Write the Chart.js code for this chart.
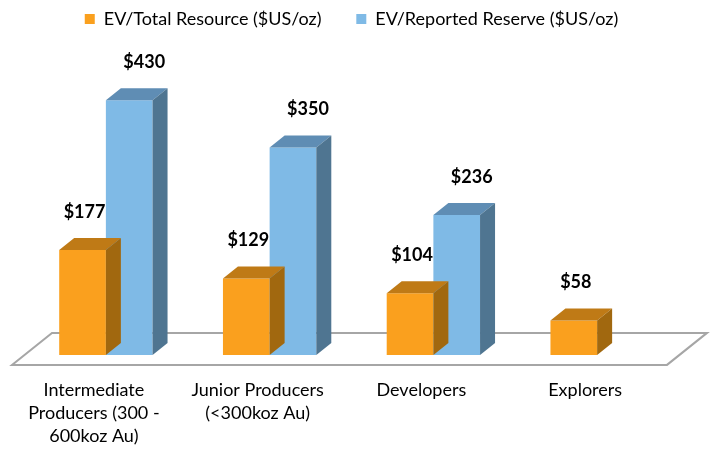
<!DOCTYPE html>
<html>
<head>
<meta charset="utf-8">
<script src="https://cdn.jsdelivr.net/npm/chart.js@4.4.1/dist/chart.umd.min.js"></script>
<style>
  html, body { margin: 0; padding: 0; background: #fff; }
  #wrap { width: 712px; height: 450px; }
</style>
</head>
<body>
<div id="wrap"><canvas id="chart"></canvas></div>
<script>
// 카테고리 / 시리즈 값
const categories = [
    ['Intermediate', 'Producers (300 -', '600koz Au)'],
    ['Junior Producers', '(<300koz Au)'],
    ['Developers'],
    ['Explorers']
];
const seriesNames = ['EV/Total Resource ($US/oz)', 'EV/Reported Reserve ($US/oz)'];
const resourceValues = [177, 129, 104, 58];
const reserveValues = [430, 350, 236, null];

const FONT = 'Lato, "Open Sans", sans-serif';
const DEPTH_X = 15, DEPTH_Y = 12;

const faceColors = [
    { top: '#BF7A16', side: '#A1680F', labelShift: 2 },
    { top: '#5F8DB4', side: '#4F7591', labelShift: 15 }
];

// 3D 바닥 + 윗면/옆면 + 값 라벨
const bar3d = {
    id: 'bar3d',
    beforeDatasetsDraw(chart) {
        const { ctx, chartArea, scales } = chart;
        const y0 = scales.y.getPixelForValue(0);
        const fl = chartArea.left - 12, fr = chartArea.right - 12, fy = y0 + 10;
        const bx = 40, by = 32;
        ctx.save();
        ctx.beginPath();
        ctx.moveTo(fl, fy);
        ctx.lineTo(fr, fy);
        ctx.lineTo(fr + bx, fy - by);
        ctx.lineTo(fl + bx, fy - by);
        ctx.closePath();
        ctx.fillStyle = '#fff';
        ctx.fill();
        ctx.lineWidth = 2;
        ctx.strokeStyle = '#A6A6A6';
        ctx.stroke();
        ctx.restore();
    },
    afterDatasetDraw(chart, args) {
        const { ctx } = chart;
        const ds = chart.data.datasets[args.index];
        const colors = faceColors[args.index];
        ctx.save();
        args.meta.data.forEach((bar, i) => {
            if (ds.data[i] == null) return;
            const { x, y, base, width } = bar.getProps(['x', 'y', 'base', 'width'], true);
            const l = x - width / 2, r = x + width / 2;
            ctx.beginPath();
            ctx.moveTo(l, y);
            ctx.lineTo(l + DEPTH_X, y - DEPTH_Y);
            ctx.lineTo(r + DEPTH_X, y - DEPTH_Y);
            ctx.lineTo(r, y);
            ctx.closePath();
            ctx.fillStyle = colors.top;
            ctx.fill();
            ctx.beginPath();
            ctx.moveTo(r, y);
            ctx.lineTo(r + DEPTH_X, y - DEPTH_Y);
            ctx.lineTo(r + DEPTH_X, base - DEPTH_Y);
            ctx.lineTo(r, base);
            ctx.closePath();
            ctx.fillStyle = colors.side;
            ctx.fill();
        });
        ctx.restore();
    },
    afterDatasetsDraw(chart) {
        const { ctx } = chart;
        ctx.save();
        ctx.font = 'bold 18px ' + FONT;
        ctx.fillStyle = '#000';
        ctx.textAlign = 'center';
        ctx.textBaseline = 'middle';
        chart.data.datasets.forEach((ds, di) => {
            const shift = faceColors[di].labelShift;
            chart.getDatasetMeta(di).data.forEach((bar, i) => {
                const v = ds.data[i];
                if (v == null) return;
                const { x, y } = bar.getProps(['x', 'y'], true);
                ctx.fillText('$' + v, x + shift, y - DEPTH_Y - 26);
            });
        });
        ctx.restore();
    }
};

const ctx = document.getElementById('chart');
new Chart(ctx, {
    type: 'bar',
    data: {
        labels: categories,
        datasets: [{
            label: seriesNames[0],
            data: resourceValues,
            backgroundColor: '#FAA01E',
            borderWidth: 0
        }, {
            label: seriesNames[1],
            data: reserveValues,
            backgroundColor: '#7FBAE6',
            borderWidth: 0
        }]
    },
    options: {
        responsive: true,
        maintainAspectRatio: false,
        animation: false,
        layout: { padding: { left: 24, right: 33, top: 0, bottom: -22 } },
        datasets: { bar: { categoryPercentage: 0.57, barPercentage: 1 } },
        plugins: {
            legend: {
                display: true,
                position: 'top',
                labels: {
                    boxWidth: 10,
                    boxHeight: 10,
                    padding: 10,
                    color: '#000',
                    font: { family: FONT, size: 18 },
                    generateLabels(chart) {
                        const items = Chart.defaults.plugins.legend.labels.generateLabels(chart);
                        items[0].text = items[0].text + '\u2003\u2002\u2009';
                        return items;
                    }
                }
            },
            tooltip: { enabled: false }
        },
        scales: {
            x: {
                grid: { display: false, drawTicks: false },
                border: { display: false },
                ticks: {
                    color: '#000',
                    font: { family: FONT, size: 18, lineHeight: 1.28 },
                    padding: 24,
                    labelOffset: -12,
                    maxRotation: 0,
                    autoSkip: false
                }
            },
            y: {
                display: false,
                min: 0,
                max: 535
            }
        }
    },
    plugins: [bar3d]
});
</script>
</body>
</html>
